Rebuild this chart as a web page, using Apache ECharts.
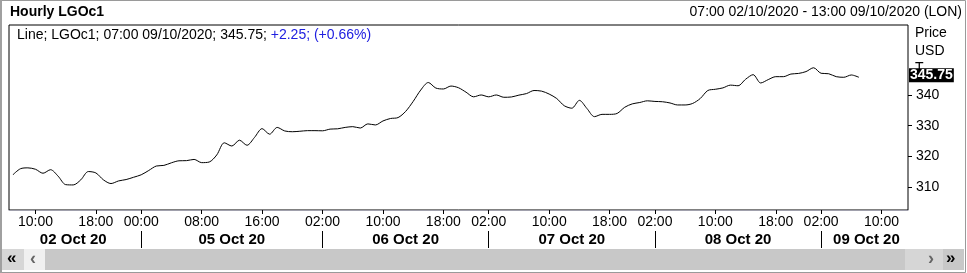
<!DOCTYPE html>
<html><head><meta charset="utf-8">
<script src="https://cdn.jsdelivr.net/npm/echarts@6/dist/echarts.min.js"></script>
<style>html,body{margin:0;padding:0;background:#fff}#c{width:967px;height:273px}</style>
</head><body><div id="c"></div>
<script>
// ---- data ----
const dayNames = ['02 Oct 20','05 Oct 20','06 Oct 20','07 Oct 20','08 Oct 20','09 Oct 20'];
const dayKeys = ['02/10','05/10','06/10','07/10','08/10','09/10'];
const dayFirstHour = [7,0,2,2,2,2];
const dayLastHour = [23,23,23,23,23,13];
const shownHourTicks = ['02/10 10:00','02/10 18:00','05/10 00:00','05/10 08:00','05/10 16:00',
  '06/10 02:00','06/10 10:00','06/10 18:00','07/10 02:00','07/10 10:00','07/10 18:00',
  '08/10 02:00','08/10 10:00','08/10 18:00','09/10 02:00','09/10 10:00'];
const yTicks = [310,320,330,340];
const prices = [
  314.0,316.0,316.3,315.85,314.55,315.7,313.6,310.85,310.75,312.4,315.1,314.65,312.4,311.2,312.05,312.5,313.25,
  314.05,315.45,316.9,317.1,317.95,318.6,318.65,319.05,318.0,318.2,320.5,324.45,323.4,325.3,323.65,326.2,
  329.05,327.25,329.45,328.3,328.05,328.2,328.4,328.4,
  328.35,328.9,329.0,329.45,329.7,329.25,330.6,330.25,331.55,332.35,332.65,334.65,337.9,341.6,344.05,342.25,
  341.95,342.9,342.35,340.9,339.4,340.0,
  339.4,340.0,339.25,339.35,339.95,340.45,341.45,341.25,340.3,338.85,336.5,335.7,338.25,335.6,332.95,333.7,
  333.7,334.0,336.0,337.1,337.55,338.1,
  337.9,337.8,337.4,336.75,336.75,337.25,338.85,341.45,341.85,342.3,343.2,343.0,345.1,346.6,343.9,345.0,
  345.95,345.95,346.8,347.0,347.6,348.85,
  347.05,346.9,345.95,345.75,346.5,345.75
];
const headerRange = '07:00 02/10/2020 - 13:00 09/10/2020 (LON)';
const chartTitle = 'Hourly LGOc1';
const prevClose = 343.5;

// ---- build categories ----
const pad = n => (n < 10 ? '0' : '') + n;
const categories = [];
const dayStartIdx = [];
dayKeys.forEach((k, d) => {
  dayStartIdx.push(categories.length);
  for (let h = dayFirstHour[d]; h <= dayLastHour[d]; h++) categories.push(k + ' ' + pad(h) + ':00');
});
const tickIdx = new Set(shownHourTicks.map(s => categories.indexOf(s)));
const sepIdx = new Set(dayStartIdx.slice(1));
const dayLabelIdx = new Set();
dayStartIdx.forEach((a, d) => {
  const s = d === 0 ? a - 0.5 : a;
  const e = d < dayStartIdx.length - 1 ? dayStartIdx[d + 1] : categories.length - 0.5;
  dayLabelIdx.add(Math.round((s + e) / 2));
});
const dayNameByKey = {};
dayKeys.forEach((k, d) => dayNameByKey[k] = dayNames[d]);
const last = prices[prices.length - 1];
const lastCat = categories[prices.length - 1];
const chg = last - prevClose;
const pct = chg / prevClose * 100;

const FF = '"Liberation Sans", Arial, sans-serif';
const chart = echarts.init(document.getElementById('c'), null, {renderer: 'canvas'});
const baseGraphics = [
  {type: 'rect', z: -10, shape: {x: 0, y: 0, width: 967, height: 273}, style: {fill: '#fff'}},
  {type: 'rect', z: -9, shape: {x: 0.5, y: 0.5, width: 965, height: 272}, style: {fill: 'none', stroke: '#9a9a9a', lineWidth: 1}},
  {type: 'rect', z: -9, shape: {x: 0, y: 0, width: 2, height: 273}, style: {fill: '#a0a0a0'}},
  {type: 'text', left: 10, top: 5, style: {text: chartTitle, font: 'bold 14px ' + FF, fill: '#000'}},
  {type: 'text', right: 5, top: 5, style: {text: headerRange, font: '14px ' + FF, fill: '#000'}},
  {type: 'text', left: 17, top: 28, style: {
    text: '{k|Line; LGOc1; ' + lastCat.split(' ')[1] + ' 09/10/2020; ' + last.toFixed(2) + '; }{b|+' + chg.toFixed(2) + '; (+' + pct.toFixed(2) + '%)}',
    rich: {k: {fill: '#000', font: '14px ' + FF}, b: {fill: '#2020e0', font: '14px ' + FF}}}},
  {type: 'text', left: 915, top: 26, style: {text: 'Price', font: '14px ' + FF, fill: '#000'}},
  {type: 'text', left: 915, top: 44, style: {text: 'USD', font: '14px ' + FF, fill: '#000'}},
  {type: 'text', left: 915, top: 61, style: {text: 'T', font: '14px ' + FF, fill: '#000'}},
  // scrollbar
  {type: 'rect', shape: {x: 2, y: 249, width: 962, height: 21}, style: {fill: '#c8c8c8'}},
  {type: 'rect', shape: {x: 2, y: 249, width: 22, height: 21}, style: {fill: '#d6d6d6'}},
  {type: 'rect', shape: {x: 24, y: 249, width: 21, height: 21}, style: {fill: '#f0f0f0'}},
  {type: 'rect', shape: {x: 905, y: 249, width: 38, height: 21}, style: {fill: '#d6d6d6'}},
  {type: 'rect', shape: {x: 943, y: 249, width: 21, height: 21}, style: {fill: '#c8c8c8'}},
  {type: 'text', left: 7, top: 250, style: {text: '«', font: 'bold 17px ' + FF, fill: '#000'}},
  {type: 'text', left: 30, top: 250, style: {text: '‹', font: 'bold 18px ' + FF, fill: '#666'}},
  {type: 'text', left: 928, top: 250, style: {text: '›', font: 'bold 18px ' + FF, fill: '#666'}},
  {type: 'text', left: 946, top: 250, style: {text: '»', font: 'bold 17px ' + FF, fill: '#000'}}
];
chart.setOption({
  animation: false,
  textStyle: {fontFamily: FF},
  grid: {left: 9, right: 59, top: 25, bottom: 63, show: true, borderColor: '#000', borderWidth: 1, backgroundColor: '#fff'},
  xAxis: [{
    type: 'category', data: categories, boundaryGap: true,
    axisLine: {show: true, lineStyle: {color: '#a0a0ac', width: 1}},
    axisTick: {show: true, alignWithLabel: true, interval: i => tickIdx.has(i), length: 4, lineStyle: {color: '#000'}},
    axisLabel: {interval: i => tickIdx.has(i), formatter: v => v.split(' ')[1], color: '#000', fontSize: 14, fontFamily: FF, margin: 5},
    splitLine: {show: false}
  }, {
    type: 'category', data: categories, boundaryGap: true, position: 'bottom', offset: 38,
    axisLine: {show: false},
    axisTick: {show: true, inside: true, length: 17, alignWithLabel: true, interval: i => sepIdx.has(i), lineStyle: {color: '#000'}},
    axisLabel: {interval: i => dayLabelIdx.has(i), formatter: v => dayNameByKey[v.split(' ')[0]], color: '#000',
      fontSize: 15, fontWeight: 'bold', fontFamily: FF, margin: -16},
    splitLine: {show: false}
  }],
  yAxis: {
    type: 'value', position: 'right', min: 302.6, max: 362.75,
    axisLine: {show: false}, splitLine: {show: false},
    axisTick: {show: true, length: 4, customValues: yTicks, lineStyle: {color: '#000'}},
    axisLabel: {customValues: yTicks, color: '#000', fontSize: 14, fontFamily: FF, margin: 8}
  },
  series: [{
    type: 'line', data: prices, xAxisIndex: 0, showSymbol: false, smooth: 0.3,
    lineStyle: {color: '#000', width: 1}
  }],
  graphic: baseGraphics
});
// last-price box placed through the y scale
const py = chart.convertToPixel({yAxisIndex: 0}, last);
const gridRight = 967 - 59;
chart.setOption({
  graphic: baseGraphics.concat([{
    type: 'text', z: 50, x: gridRight + 1, y: py - 2,
    style: {text: last.toFixed(2), font: 'bold 14px ' + FF, fill: '#fff', backgroundColor: '#000',
      padding: [0, 1, 0, 1], lineHeight: 14, verticalAlign: 'middle', align: 'left'}
  }])
});
</script></body></html>
